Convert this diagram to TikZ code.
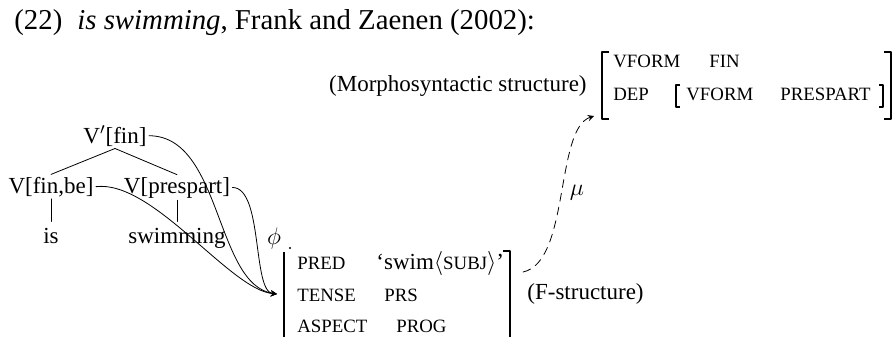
\documentclass[tikz,border=0pt]{standalone}
\usepackage{fontspec}
\setmainfont{Liberation Serif}
\usetikzlibrary{arrows}
\newcommand{\fsc}[1]{{\fontsize{9.4pt}{11pt}\selectfont #1}}

\begin{document}
\begin{tikzpicture}[line cap=round,line join=round,>=stealth,x=0.5pt,y=-0.5pt,
  every node/.style={inner sep=1pt,font=\fontsize{11.5pt}{14pt}\selectfont},
  txt/.style={anchor=base west},
  cat/.style={anchor=base},
  brk/.style={line width=0.6pt,line cap=butt}]
\useasboundingbox (0,0) rectangle (896,337);
\node[txt,font=\fontsize{14.4pt}{17pt}\selectfont] (title) at (12,29) {(22)\hspace{7.5pt}\textit{is swimming}, Frank and Zaenen (2002):};
% c-structure
\node[cat] (vbar) at (115,143) {V$'$[fin]};
\node[cat] (vfin) at (51,193) {V[fin,be]};
\node[cat] (vpre) at (177,193) {V[prespart]};
\node[cat] (is) at (51,243) {is};
\node[cat] (swim) at (177,243) {swimming};
\draw (vbar.south) -- (vfin.north);
\draw (vbar.south) -- (vpre.north);
\draw[shorten >=2pt] (vfin.south) -- (is.north);
\draw[shorten >=2pt] (vpre.south) -- (swim.north);
% phi projection
\coordinate (tip) at (277,294);
\draw[->] (vbar.east) .. controls +(73,0) and +(-62,-9) .. (tip);
\draw[->] (vfin.east) .. controls +(57,-7) and +(-47,-4) .. (tip);
\draw[->] (vpre.east) .. controls +(31,0) and +(-25,-2) .. (tip);
\node (phi) at (274,238) {$\phi$};
% f-structure
\node[txt] (pred) at (295,269) {\fsc{PRED}};
\node[txt] (predv) at (374,269) {‘swim$\langle$\fsc{SUBJ}$\rangle$’};
\node[txt] (tense) at (295,301) {\fsc{TENSE}};
\node[txt] (tensev) at (382,301) {\fsc{PRS}};
\node[txt] (asp) at (295,332) {\fsc{ASPECT}};
\node[txt] (aspv) at (394,332) {\fsc{PROG}};
\draw[brk] (284,252) -- (284,337);
\fill (290,248) circle (0.6pt);
\draw[brk] (503,251) -- (510,251) -- (510,337);
\node[txt] (fslab) at (525,299) {(F-structure)};
% morphosyntactic structure
\node[anchor=base east] (mslab) at (589,91) {(Morphosyntactic structure)};
\node[txt] (vf1) at (611,68) {\fsc{VFORM}};
\node[txt] (fin) at (707,68) {\fsc{FIN}};
\node[txt] (dep) at (611,100) {\fsc{DEP}};
\node[txt] (vf2) at (684,100) {\fsc{VFORM}};
\node[txt] (presp) at (778,100) {\fsc{PRESPART}};
\draw[brk] (609,52) -- (602,52) -- (602,119) -- (609,119);
\draw[brk] (884,52) -- (891,52) -- (891,119) -- (884,119);
\draw[brk] (680,85) -- (676,85) -- (676,107) -- (680,107);
\draw[brk] (879,85) -- (883,85) -- (883,107) -- (879,107);
% mu projection
\coordinate (fsr) at (523,272);
\coordinate (msl) at (594,116);
\draw[->,dash pattern=on 4pt off 3pt] (fsr) .. controls +(47,-10) and +(-39,13) .. (msl);
\node (mu) at (577,193) {$\mu$};
\end{tikzpicture}
\end{document}
